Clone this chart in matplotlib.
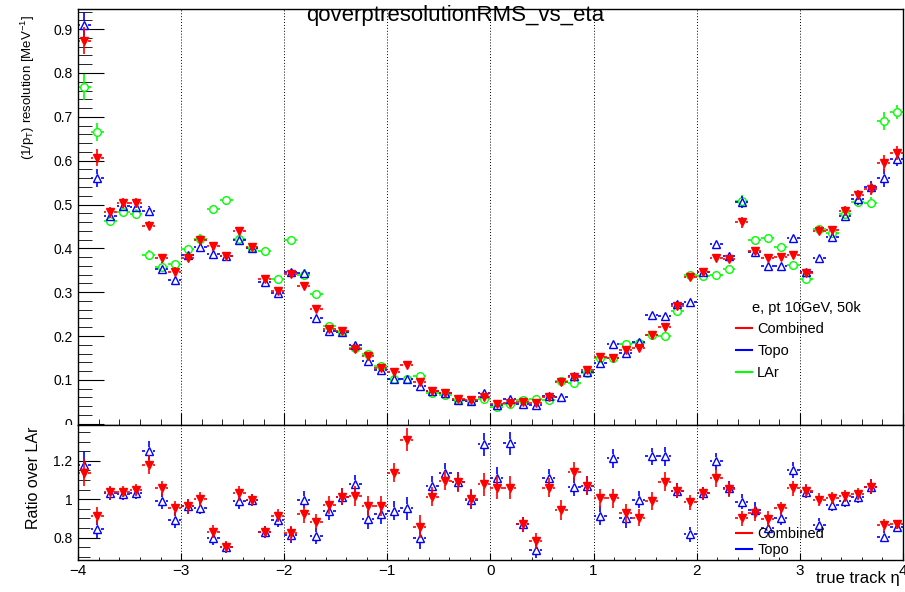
import numpy as np
import matplotlib
matplotlib.use('Agg')
import matplotlib.pyplot as plt
from matplotlib.lines import Line2D
from matplotlib.patches import Rectangle

plt.rcParams['font.family'] = ['Liberation Sans', 'DejaVu Sans']

# 64 bins of 0.125 in eta, from -4 to 4
eta = np.arange(-3.9375, 4.0, 0.125)

# resolution values
res_combined = [0.874, 0.607, 0.482, 0.504, 0.504, 0.452, 0.377, 0.347, 0.379, 0.419,
                0.405, 0.382, 0.440, 0.404, 0.329, 0.303, 0.341, 0.314, 0.261, 0.217,
                0.211, 0.170, 0.154, 0.127, 0.118, 0.135, 0.094, 0.074, 0.071, 0.057,
                0.054, 0.061, 0.045, 0.048, 0.050, 0.048, 0.061, 0.095, 0.107, 0.122,
                0.153, 0.150, 0.168, 0.172, 0.202, 0.221, 0.268, 0.335, 0.347, 0.379,
                0.375, 0.459, 0.395, 0.379, 0.381, 0.385, 0.344, 0.440, 0.442, 0.486,
                0.522, 0.535, 0.594, 0.617]
res_topo = [0.910, 0.561, 0.474, 0.497, 0.495, 0.486, 0.353, 0.328, 0.385, 0.402,
            0.388, 0.382, 0.419, 0.400, 0.324, 0.297, 0.347, 0.343, 0.242, 0.212,
            0.210, 0.179, 0.143, 0.122, 0.101, 0.101, 0.086, 0.074, 0.071, 0.055,
            0.052, 0.071, 0.042, 0.056, 0.046, 0.042, 0.063, 0.060, 0.108, 0.118,
            0.139, 0.181, 0.162, 0.187, 0.248, 0.245, 0.272, 0.278, 0.347, 0.410,
            0.382, 0.506, 0.392, 0.360, 0.360, 0.423, 0.347, 0.377, 0.425, 0.474,
            0.512, 0.541, 0.560, 0.603]
res_lar = [0.768, 0.665, 0.463, 0.484, 0.478, 0.385, 0.358, 0.364, 0.398, 0.422,
           0.490, 0.510, 0.422, 0.401, 0.395, 0.331, 0.420, 0.340, 0.295, 0.223,
           0.210, 0.172, 0.159, 0.131, 0.101, 0.101, 0.109, 0.071, 0.065, 0.054,
           0.052, 0.056, 0.037, 0.045, 0.054, 0.057, 0.055, 0.098, 0.093, 0.115,
           0.149, 0.150, 0.182, 0.185, 0.202, 0.200, 0.258, 0.339, 0.337, 0.339,
           0.354, 0.508, 0.419, 0.423, 0.404, 0.362, 0.331, 0.443, 0.434, 0.478,
           0.506, 0.504, 0.691, 0.710]
res_err = [0.030, 0.020, 0.012, 0.011, 0.011, 0.011, 0.010, 0.010, 0.010, 0.010,
           0.010, 0.010, 0.009, 0.009, 0.008, 0.008, 0.008, 0.007, 0.007, 0.006,
           0.006, 0.005, 0.005, 0.005, 0.004, 0.004, 0.004, 0.003, 0.003, 0.003,
           0.003, 0.003, 0.003, 0.003, 0.003, 0.003, 0.003, 0.003, 0.004, 0.004,
           0.004, 0.005, 0.005, 0.005, 0.006, 0.006, 0.007, 0.007, 0.008, 0.008,
           0.009, 0.013, 0.009, 0.009, 0.009, 0.009, 0.009, 0.010, 0.010, 0.011,
           0.012, 0.013, 0.020, 0.016]

# ratios over LAr from the bottom pad
ratio_combined = [1.139, 0.915, 1.035, 1.040, 1.049, 1.179, 1.057, 0.953, 0.962, 1.002,
                  0.831, 0.753, 1.031, 0.997, 0.831, 0.915, 0.822, 0.922, 0.883, 0.970,
                  1.014, 1.017, 0.965, 0.965, 1.139, 1.310, 0.857, 1.014, 1.096, 1.089,
                  1.002, 1.078, 1.061, 1.061, 0.869, 0.782, 1.061, 0.944, 1.144, 1.071,
                  1.005, 1.005, 0.927, 0.904, 0.991, 1.092, 1.044, 0.984, 1.031, 1.110,
                  1.052, 0.901, 0.927, 0.896, 0.953, 1.057, 1.044, 0.997, 1.005, 1.017,
                  1.026, 1.066, 0.866, 0.869]
ratio_topo = [1.179, 0.845, 1.031, 1.028, 1.031, 1.252, 0.991, 0.892, 0.962, 0.956,
              0.796, 0.749, 0.991, 0.997, 0.828, 0.892, 0.814, 0.997, 0.809, 0.939,
              1.014, 1.078, 0.896, 0.922, 0.939, 0.953, 0.800, 1.070, 1.139, 1.092,
              0.997, 1.287, 1.110, 1.292, 0.869, 0.735, 1.110, 0.612, 1.066, 1.071,
              0.915, 1.214, 0.901, 0.997, 1.223, 1.223, 1.044, 0.817, 1.031, 1.197,
              1.057, 0.988, 0.944, 0.851, 0.901, 1.153, 1.040, 0.866, 0.970, 0.991,
              1.009, 1.066, 0.805, 0.857]
ratio_err = [0.070, 0.045, 0.035, 0.030, 0.030, 0.050, 0.040, 0.040, 0.040, 0.035,
             0.035, 0.030, 0.040, 0.030, 0.030, 0.035, 0.040, 0.045, 0.040, 0.045,
             0.045, 0.050, 0.050, 0.050, 0.050, 0.060, 0.060, 0.050, 0.050, 0.050,
             0.050, 0.060, 0.060, 0.060, 0.040, 0.040, 0.050, 0.050, 0.050, 0.050,
             0.050, 0.050, 0.050, 0.045, 0.045, 0.050, 0.040, 0.040, 0.035, 0.045,
             0.040, 0.040, 0.040, 0.040, 0.035, 0.040, 0.035, 0.035, 0.030, 0.030,
             0.030, 0.040, 0.030, 0.025]

RED, BLUE, GREEN = '#ff0000', '#0000ff', '#00ff00'


def root_points(ax, x, y, err, color, marker, filled, ms=6):
    # ROOT-like error cross: lines stop at the marker edge
    x = np.asarray(x); y = np.asarray(y); err = np.asarray(err)
    half = 0.0625
    bb = ax.get_window_extent()
    x0, x1 = ax.get_xlim()
    y0, y1 = ax.get_ylim()
    gx = 4.0 * (x1 - x0) / bb.width
    gy = 4.0 * (y1 - y0) / bb.height
    ax.hlines(y, x - half, x - gx, color=color, lw=1.2)
    ax.hlines(y, x + gx, x + half, color=color, lw=1.2)
    m = err > gy
    ax.vlines(x[m], y[m] + gy, y[m] + err[m], color=color, lw=1.2)
    ax.vlines(x[m], y[m] - err[m], y[m] - gy, color=color, lw=1.2)
    ax.plot(x, y, ls='none', marker=marker, ms=ms, mec=color,
            mfc=color if filled else 'none', mew=1.0)


W, H = 905, 592
fig = plt.figure(figsize=(W / 100, H / 100), dpi=100)
ax1 = fig.add_axes([78 / W, 1 - 425 / H, 825 / W, 416 / H])
ax2 = fig.add_axes([78 / W, 1 - 560 / H, 825 / W, 135 / H])

ax1.set_xlim(-4, 4)
ax1.set_ylim(-0.003, 0.946)
ax2.set_xlim(-4, 4)
ax2.set_ylim(0.683, 1.387)

for ax in (ax1, ax2):
    ax.set_xticks(np.arange(-4, 5, 1))
    ax.set_xticks(np.arange(-4, 4.01, 0.2), minor=True)
    ax.grid(axis='x', which='major', color='black', lw=0.7, ls=(0, (1, 2)))
    ax.set_axisbelow(True)
    for s in ax.spines.values():
        s.set_linewidth(1.0)

ax1.set_yticks(np.arange(0, 0.95, 0.1))
ax1.set_yticks(np.arange(0, 0.95, 0.02), minor=True)
ax1.set_yticklabels(['0', '0.1', '0.2', '0.3', '0.4', '0.5', '0.6', '0.7', '0.8', '0.9'])
ax1.tick_params(axis='y', which='major', direction='in', length=19, labelsize=10, pad=4)
ax1.tick_params(axis='y', which='minor', direction='in', length=10)
ax1.tick_params(axis='x', which='major', direction='in', length=8.5, labelbottom=False)
ax1.tick_params(axis='x', which='minor', direction='in', length=4.3)

ax2.set_yticks([0.8, 1.0, 1.2])
ax2.set_yticks(np.arange(0.7, 1.39, 0.05), minor=True)
ax2.set_yticklabels(['0.8', '1', '1.2'])
ax2.tick_params(axis='y', which='major', direction='in', length=16, labelsize=10, pad=4)
ax2.tick_params(axis='y', which='minor', direction='in', length=8.5)
ax2.tick_params(axis='x', which='major', direction='in', length=5, labelsize=11, pad=3)
ax2.tick_params(axis='x', which='minor', direction='in', length=2.5)

root_points(ax1, eta, res_lar, res_err, GREEN, 'o', False, ms=5.5)
root_points(ax1, eta, res_topo, res_err, BLUE, '^', False)
root_points(ax1, eta, res_combined, res_err, RED, 'v', True, ms=5.5)

root_points(ax2, eta, ratio_topo, ratio_err, BLUE, '^', False)
root_points(ax2, eta, ratio_combined, ratio_err, RED, 'v', True, ms=5.5)

# labels and title
fig.text(455 / W, 1 - 15 / H, 'qoverptresolutionRMS_vs_eta', fontsize=16,
         ha='center', va='center')
fig.text(28 / W, 1 - 15 / H, r'(1/p$_{\mathregular{T}}$) resolution [MeV$^{\mathregular{-1}}$]',
         fontsize=9.5, rotation=90, ha='center', va='top')
fig.text(33 / W, 1 - 427 / H, 'Ratio over LAr', fontsize=11.5, rotation=90,
         ha='center', va='top')
fig.text(900 / W, 1 - 578 / H, 'true track η', fontsize=12, ha='right', va='center')

# hide lower half of the "0" label like the overlapping ROOT pad does
fig.add_artist(Rectangle((55 / W, 1 - 440 / H), 22 / W, 15 / H,
                         transform=fig.transFigure, facecolor='white',
                         edgecolor='none', zorder=5))

# legends
fig.text(752 / W, 1 - 308 / H, 'e, pt 10GeV, 50k', fontsize=10.5, ha='left', va='center')
handles = [Line2D([], [], color=RED, lw=1.5), Line2D([], [], color=BLUE, lw=1.5),
           Line2D([], [], color=GREEN, lw=1.5)]
fig.legend(handles, ['Combined', 'Topo', 'LAr'], loc='upper left',
           bbox_to_anchor=(736 / W, 1 - 322 / H), frameon=False, fontsize=10.5,
           handlelength=1.1, handletextpad=0.35, labelspacing=0.55,
           borderpad=0, borderaxespad=0)
fig.legend(handles[:2], ['Combined', 'Topo'], loc='upper left',
           bbox_to_anchor=(736 / W, 1 - 527 / H), frameon=False, fontsize=10.5,
           handlelength=1.1, handletextpad=0.35, labelspacing=0.12,
           borderpad=0, borderaxespad=0)

fig.savefig('out.png', dpi=100)
